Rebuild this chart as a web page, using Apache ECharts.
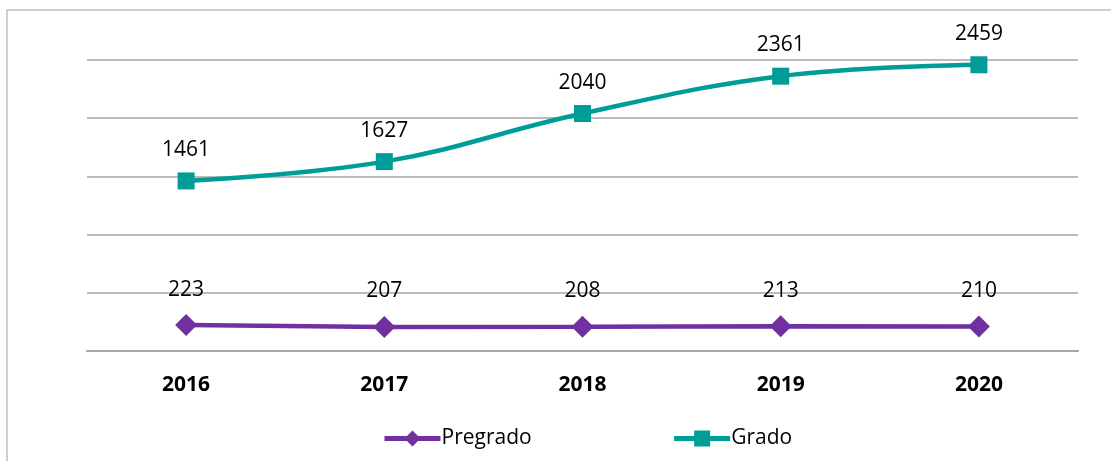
<!DOCTYPE html>
<html>
<head>
<meta charset="utf-8">
<script src="https://cdn.jsdelivr.net/npm/echarts@6/dist/echarts.min.js"></script>
<style>
  html, body { margin: 0; padding: 0; background: #fff; }
  #chart { width: 1111px; height: 461px; }
</style>
</head>
<body>
<div id="chart"></div>
<script>
  // datos
  var years = ['2016', '2017', '2018', '2019', '2020'];
  var pregrado = [223, 207, 208, 213, 210];
  var grado = [1461, 1627, 2040, 2361, 2459];

  var chart = echarts.init(document.getElementById('chart'));

  var labelStyle = {
    show: true,
    position: 'top',
    distance: 12,
    color: '#000',
    fontSize: 21,
    fontFamily: 'Open Sans'
  };

  var option = {
    animation: false,
    backgroundColor: '#fff',
    graphic: [{
      type: 'rect',
      shape: { x: 7, y: 10, width: 1200, height: 600 },
      style: { fill: 'none', stroke: '#bfbfbf', lineWidth: 1.5 },
      silent: true
    }],
    grid: { left: 87, right: 33, top: 60, bottom: 110 },
    legend: {
      data: ['Pregrado', 'Grado'],
      left: 377,
      top: 423,
      itemWidth: 56,
      itemHeight: 20,
      itemGap: 140,
      lineStyle: { width: 5 },
      textStyle: { fontSize: 21, fontFamily: 'Open Sans', color: '#000', padding: [0, 0, 0, -4] }
    },
    xAxis: {
      type: 'category',
      data: years,
      boundaryGap: true,
      axisLine: { lineStyle: { color: '#a6a6a6', width: 2 } },
      axisTick: { alignWithLabel: true, length: 6, lineStyle: { color: '#a6a6a6', width: 2 } },
      axisLabel: { color: '#000', fontSize: 21, fontWeight: 'bold', fontFamily: 'Open Sans', margin: 24 }
    },
    yAxis: {
      type: 'value',
      min: 0,
      max: 2500,
      interval: 500,
      axisLabel: { show: false },
      axisLine: { show: false },
      axisTick: { show: false },
      splitLine: { lineStyle: { color: '#a6a6a6', width: 1.5 } }
    },
    series: [
      {
        name: 'Pregrado',
        type: 'line',
        data: pregrado,
        symbol: 'diamond',
        symbolSize: 22,
        itemStyle: { color: '#7030a0' },
        lineStyle: { color: '#7030a0', width: 4.5 },
        label: Object.assign({}, labelStyle, { distance: 14 })
      },
      {
        name: 'Grado',
        type: 'line',
        data: grado,
        smooth: 0.4,
        symbol: 'rect',
        symbolSize: 17,
        itemStyle: { color: '#009c97' },
        lineStyle: { color: '#009c97', width: 4.5 },
        label: labelStyle
      }
    ]
  };

  chart.setOption(option);
</script>
</body>
</html>
